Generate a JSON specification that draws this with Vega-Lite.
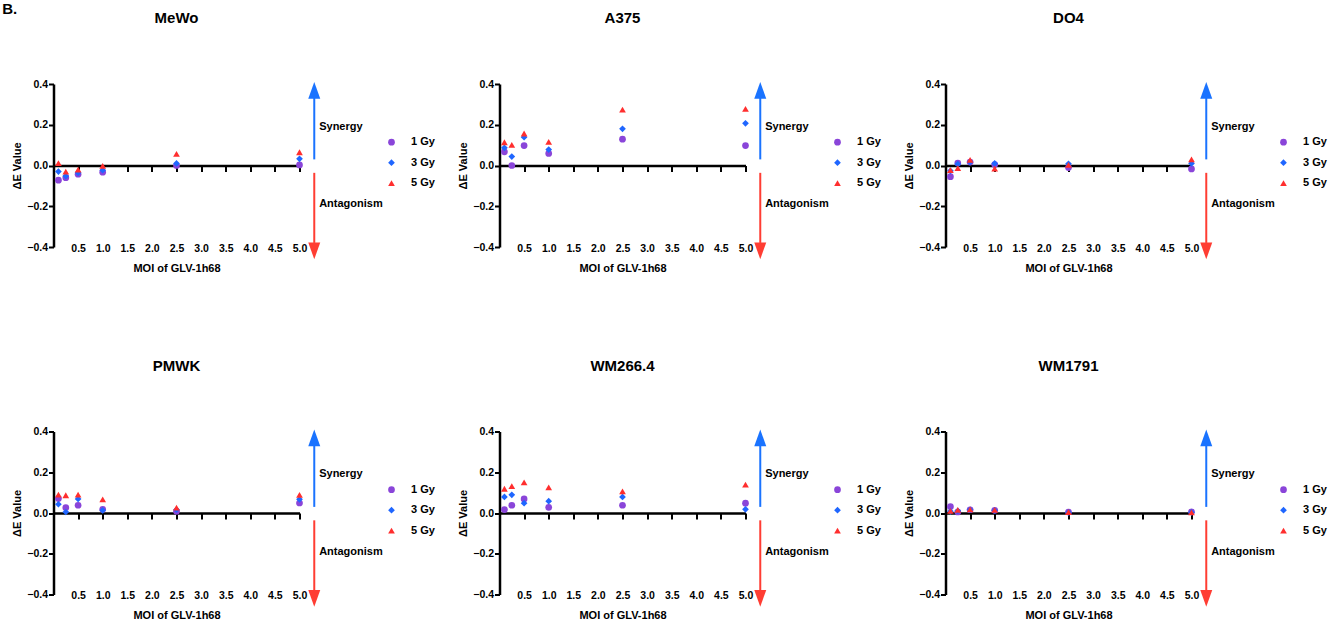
{
  "$schema": "https://vega.github.io/schema/vega-lite/v6.json",
  "background": "white",
  "padding": {"left": 1.5, "top": 2, "right": 5, "bottom": 5},
  "title": {"text": "B.", "anchor": "start", "frame": "bounds", "fontSize": 15, "fontWeight": "bold", "color": "black", "offset": -6, "dx": -9.5},
  "bounds": "flush",
  "columns": 3,
  "spacing": {"row": 184.5, "column": 200},
  "resolve": {"scale": {"color": "independent", "shape": "independent"}},
  "datasets": {
    "pts": [
      {"c": "MeWo", "dose": "1 Gy", "x": 0.1, "y": -0.072}, {"c": "MeWo", "dose": "1 Gy", "x": 0.25, "y": -0.06}, {"c": "MeWo", "dose": "1 Gy", "x": 0.5, "y": -0.043}, {"c": "MeWo", "dose": "1 Gy", "x": 1.0, "y": -0.033}, {"c": "MeWo", "dose": "1 Gy", "x": 2.5, "y": 0.0}, {"c": "MeWo", "dose": "1 Gy", "x": 5.0, "y": 0.003},
      {"c": "MeWo", "dose": "3 Gy", "x": 0.1, "y": -0.03}, {"c": "MeWo", "dose": "3 Gy", "x": 0.25, "y": -0.052}, {"c": "MeWo", "dose": "3 Gy", "x": 0.5, "y": -0.036}, {"c": "MeWo", "dose": "3 Gy", "x": 1.0, "y": -0.023}, {"c": "MeWo", "dose": "3 Gy", "x": 2.5, "y": 0.01}, {"c": "MeWo", "dose": "3 Gy", "x": 5.0, "y": 0.033},
      {"c": "MeWo", "dose": "5 Gy", "x": 0.1, "y": 0.012}, {"c": "MeWo", "dose": "5 Gy", "x": 0.25, "y": -0.03}, {"c": "MeWo", "dose": "5 Gy", "x": 0.5, "y": -0.02}, {"c": "MeWo", "dose": "5 Gy", "x": 1.0, "y": -0.002}, {"c": "MeWo", "dose": "5 Gy", "x": 2.5, "y": 0.057}, {"c": "MeWo", "dose": "5 Gy", "x": 5.0, "y": 0.065},
      {"c": "A375", "dose": "1 Gy", "x": 0.1, "y": 0.067}, {"c": "A375", "dose": "1 Gy", "x": 0.25, "y": 0.0}, {"c": "A375", "dose": "1 Gy", "x": 0.5, "y": 0.098}, {"c": "A375", "dose": "1 Gy", "x": 1.0, "y": 0.059}, {"c": "A375", "dose": "1 Gy", "x": 2.5, "y": 0.129}, {"c": "A375", "dose": "1 Gy", "x": 5.0, "y": 0.098},
      {"c": "A375", "dose": "3 Gy", "x": 0.1, "y": 0.087}, {"c": "A375", "dose": "3 Gy", "x": 0.25, "y": 0.044}, {"c": "A375", "dose": "3 Gy", "x": 0.5, "y": 0.139}, {"c": "A375", "dose": "3 Gy", "x": 1.0, "y": 0.078}, {"c": "A375", "dose": "3 Gy", "x": 2.5, "y": 0.18}, {"c": "A375", "dose": "3 Gy", "x": 5.0, "y": 0.207},
      {"c": "A375", "dose": "5 Gy", "x": 0.1, "y": 0.114}, {"c": "A375", "dose": "5 Gy", "x": 0.25, "y": 0.101}, {"c": "A375", "dose": "5 Gy", "x": 0.5, "y": 0.157}, {"c": "A375", "dose": "5 Gy", "x": 1.0, "y": 0.116}, {"c": "A375", "dose": "5 Gy", "x": 2.5, "y": 0.274}, {"c": "A375", "dose": "5 Gy", "x": 5.0, "y": 0.278},
      {"c": "DO4", "dose": "1 Gy", "x": 0.1, "y": -0.055}, {"c": "DO4", "dose": "1 Gy", "x": 0.25, "y": 0.012}, {"c": "DO4", "dose": "1 Gy", "x": 0.5, "y": 0.017}, {"c": "DO4", "dose": "1 Gy", "x": 1.0, "y": 0.005}, {"c": "DO4", "dose": "1 Gy", "x": 2.5, "y": -0.01}, {"c": "DO4", "dose": "1 Gy", "x": 5.0, "y": -0.017},
      {"c": "DO4", "dose": "3 Gy", "x": 0.1, "y": -0.026}, {"c": "DO4", "dose": "3 Gy", "x": 0.25, "y": 0.007}, {"c": "DO4", "dose": "3 Gy", "x": 0.5, "y": 0.017}, {"c": "DO4", "dose": "3 Gy", "x": 1.0, "y": 0.01}, {"c": "DO4", "dose": "3 Gy", "x": 2.5, "y": 0.008}, {"c": "DO4", "dose": "3 Gy", "x": 5.0, "y": 0.01},
      {"c": "DO4", "dose": "5 Gy", "x": 0.1, "y": -0.023}, {"c": "DO4", "dose": "5 Gy", "x": 0.25, "y": -0.013}, {"c": "DO4", "dose": "5 Gy", "x": 0.5, "y": 0.028}, {"c": "DO4", "dose": "5 Gy", "x": 1.0, "y": -0.015}, {"c": "DO4", "dose": "5 Gy", "x": 2.5, "y": 0.003}, {"c": "DO4", "dose": "5 Gy", "x": 5.0, "y": 0.03},
      {"c": "PMWK", "dose": "1 Gy", "x": 0.1, "y": 0.071}, {"c": "PMWK", "dose": "1 Gy", "x": 0.25, "y": 0.026}, {"c": "PMWK", "dose": "1 Gy", "x": 0.5, "y": 0.038}, {"c": "PMWK", "dose": "1 Gy", "x": 1.0, "y": 0.018}, {"c": "PMWK", "dose": "1 Gy", "x": 2.5, "y": 0.008}, {"c": "PMWK", "dose": "1 Gy", "x": 5.0, "y": 0.049},
      {"c": "PMWK", "dose": "3 Gy", "x": 0.1, "y": 0.043}, {"c": "PMWK", "dose": "3 Gy", "x": 0.25, "y": 0.005}, {"c": "PMWK", "dose": "3 Gy", "x": 0.5, "y": 0.069}, {"c": "PMWK", "dose": "3 Gy", "x": 1.0, "y": 0.013}, {"c": "PMWK", "dose": "3 Gy", "x": 2.5, "y": 0.016}, {"c": "PMWK", "dose": "3 Gy", "x": 5.0, "y": 0.067},
      {"c": "PMWK", "dose": "5 Gy", "x": 0.1, "y": 0.09}, {"c": "PMWK", "dose": "5 Gy", "x": 0.25, "y": 0.087}, {"c": "PMWK", "dose": "5 Gy", "x": 0.5, "y": 0.09}, {"c": "PMWK", "dose": "5 Gy", "x": 1.0, "y": 0.067}, {"c": "PMWK", "dose": "5 Gy", "x": 2.5, "y": 0.026}, {"c": "PMWK", "dose": "5 Gy", "x": 5.0, "y": 0.089},
      {"c": "WM266.4", "dose": "1 Gy", "x": 0.1, "y": 0.017}, {"c": "WM266.4", "dose": "1 Gy", "x": 0.25, "y": 0.038}, {"c": "WM266.4", "dose": "1 Gy", "x": 0.5, "y": 0.069}, {"c": "WM266.4", "dose": "1 Gy", "x": 1.0, "y": 0.028}, {"c": "WM266.4", "dose": "1 Gy", "x": 2.5, "y": 0.038}, {"c": "WM266.4", "dose": "1 Gy", "x": 5.0, "y": 0.048},
      {"c": "WM266.4", "dose": "3 Gy", "x": 0.1, "y": 0.079}, {"c": "WM266.4", "dose": "3 Gy", "x": 0.25, "y": 0.089}, {"c": "WM266.4", "dose": "3 Gy", "x": 0.5, "y": 0.048}, {"c": "WM266.4", "dose": "3 Gy", "x": 1.0, "y": 0.058}, {"c": "WM266.4", "dose": "3 Gy", "x": 2.5, "y": 0.079}, {"c": "WM266.4", "dose": "3 Gy", "x": 5.0, "y": 0.018},
      {"c": "WM266.4", "dose": "5 Gy", "x": 0.1, "y": 0.119}, {"c": "WM266.4", "dose": "5 Gy", "x": 0.25, "y": 0.132}, {"c": "WM266.4", "dose": "5 Gy", "x": 0.5, "y": 0.15}, {"c": "WM266.4", "dose": "5 Gy", "x": 1.0, "y": 0.126}, {"c": "WM266.4", "dose": "5 Gy", "x": 2.5, "y": 0.106}, {"c": "WM266.4", "dose": "5 Gy", "x": 5.0, "y": 0.139},
      {"c": "WM1791", "dose": "1 Gy", "x": 0.1, "y": 0.031}, {"c": "WM1791", "dose": "1 Gy", "x": 0.25, "y": 0.005}, {"c": "WM1791", "dose": "1 Gy", "x": 0.5, "y": 0.016}, {"c": "WM1791", "dose": "1 Gy", "x": 1.0, "y": 0.013}, {"c": "WM1791", "dose": "1 Gy", "x": 2.5, "y": 0.005}, {"c": "WM1791", "dose": "1 Gy", "x": 5.0, "y": 0.006},
      {"c": "WM1791", "dose": "3 Gy", "x": 0.1, "y": 0.008}, {"c": "WM1791", "dose": "3 Gy", "x": 0.25, "y": 0.01}, {"c": "WM1791", "dose": "3 Gy", "x": 0.5, "y": 0.016}, {"c": "WM1791", "dose": "3 Gy", "x": 1.0, "y": 0.012}, {"c": "WM1791", "dose": "3 Gy", "x": 2.5, "y": 0.003}, {"c": "WM1791", "dose": "3 Gy", "x": 5.0, "y": 0.003},
      {"c": "WM1791", "dose": "5 Gy", "x": 0.1, "y": 0.01}, {"c": "WM1791", "dose": "5 Gy", "x": 0.25, "y": 0.015}, {"c": "WM1791", "dose": "5 Gy", "x": 0.5, "y": 0.018}, {"c": "WM1791", "dose": "5 Gy", "x": 1.0, "y": 0.015}, {"c": "WM1791", "dose": "5 Gy", "x": 2.5, "y": 0.005}, {"c": "WM1791", "dose": "5 Gy", "x": 5.0, "y": 0.003}
    ],
    "arrows": [
      {"x": 5.3, "y": 0.03, "y2": 0.35, "col": "#1a73ff"},
      {"x": 5.3, "y": -0.036, "y2": -0.38, "col": "#ff3d33"}
    ],
    "heads": [
      {"x": 5.3, "y": 0.41, "dir": "up"},
      {"x": 5.3, "y": -0.46, "dir": "down"}
    ],
    "labels": [
      {"x": 5.4, "y": 0.19, "t": "Synergy"},
      {"x": 5.4, "y": -0.19, "t": "Antagonism"}
    ]
  },
  "concat": [
    {"width": 246, "height": 163, "title": "MeWo",
     "encoding": {"x": {"field": "x", "type": "quantitative", "scale": {"domain": [0, 5], "nice": false}, "axis": {"values": [0.5, 1, 1.5, 2, 2.5, 3, 3.5, 4, 4.5, 5], "format": ".1f", "title": "MOI of GLV-1h68"}},
                  "y": {"field": "y", "type": "quantitative", "scale": {"domain": [-0.4, 0.4], "nice": false}, "axis": {"values": [-0.4, -0.2, 0, 0.2, 0.4], "format": ".1f", "title": "ΔE Value"}}},
     "layer": [
      {"data": {"name": "pts"}, "transform": [{"filter": "datum.c === 'MeWo'"}], "mark": {"type": "point", "filled": true, "opacity": 1, "size": 45},
       "encoding": {"color": {"field": "dose", "type": "nominal", "scale": {"domain": ["1 Gy", "3 Gy", "5 Gy"], "range": ["#8a45d9", "#1f66ff", "#ff2e2e"]}, "legend": {"orient": "none", "legendX": 332.5, "legendY": 52.7, "title": null}},
                    "shape": {"field": "dose", "type": "nominal", "scale": {"domain": ["1 Gy", "3 Gy", "5 Gy"], "range": ["circle", "diamond", "triangle-up"]}, "legend": {"orient": "none", "legendX": 332.5, "legendY": 52.7, "title": null}}}},
      {"data": {"name": "arrows"}, "mark": {"type": "rule", "strokeWidth": 2}, "encoding": {"y2": {"field": "y2"}, "stroke": {"field": "col", "type": "nominal", "scale": null}}},
      {"data": {"name": "heads"}, "transform": [{"filter": "datum.dir === 'up'"}], "mark": {"type": "point", "shape": "M0,0L1,2.8L-1,2.8Z", "size": 144, "filled": true, "opacity": 1, "color": "#1a73ff"}},
      {"data": {"name": "heads"}, "transform": [{"filter": "datum.dir === 'down'"}], "mark": {"type": "point", "shape": "M0,0L1,-2.8L-1,-2.8Z", "size": 144, "filled": true, "opacity": 1, "color": "#ff3d33"}},
      {"data": {"name": "labels"}, "mark": {"type": "text", "align": "left", "baseline": "middle", "fontSize": 11, "fontWeight": "bold", "color": "black"}, "encoding": {"text": {"field": "t"}}}
     ]},
    {"width": 246, "height": 163, "title": "A375",
     "encoding": {"x": {"field": "x", "type": "quantitative", "scale": {"domain": [0, 5], "nice": false}, "axis": {"values": [0.5, 1, 1.5, 2, 2.5, 3, 3.5, 4, 4.5, 5], "format": ".1f", "title": "MOI of GLV-1h68"}},
                  "y": {"field": "y", "type": "quantitative", "scale": {"domain": [-0.4, 0.4], "nice": false}, "axis": {"values": [-0.4, -0.2, 0, 0.2, 0.4], "format": ".1f", "title": "ΔE Value"}}},
     "layer": [
      {"data": {"name": "pts"}, "transform": [{"filter": "datum.c === 'A375'"}], "mark": {"type": "point", "filled": true, "opacity": 1, "size": 45},
       "encoding": {"color": {"field": "dose", "type": "nominal", "scale": {"domain": ["1 Gy", "3 Gy", "5 Gy"], "range": ["#8a45d9", "#1f66ff", "#ff2e2e"]}, "legend": {"orient": "none", "legendX": 332.5, "legendY": 52.7, "title": null}},
                    "shape": {"field": "dose", "type": "nominal", "scale": {"domain": ["1 Gy", "3 Gy", "5 Gy"], "range": ["circle", "diamond", "triangle-up"]}, "legend": {"orient": "none", "legendX": 332.5, "legendY": 52.7, "title": null}}}},
      {"data": {"name": "arrows"}, "mark": {"type": "rule", "strokeWidth": 2}, "encoding": {"y2": {"field": "y2"}, "stroke": {"field": "col", "type": "nominal", "scale": null}}},
      {"data": {"name": "heads"}, "transform": [{"filter": "datum.dir === 'up'"}], "mark": {"type": "point", "shape": "M0,0L1,2.8L-1,2.8Z", "size": 144, "filled": true, "opacity": 1, "color": "#1a73ff"}},
      {"data": {"name": "heads"}, "transform": [{"filter": "datum.dir === 'down'"}], "mark": {"type": "point", "shape": "M0,0L1,-2.8L-1,-2.8Z", "size": 144, "filled": true, "opacity": 1, "color": "#ff3d33"}},
      {"data": {"name": "labels"}, "mark": {"type": "text", "align": "left", "baseline": "middle", "fontSize": 11, "fontWeight": "bold", "color": "black"}, "encoding": {"text": {"field": "t"}}}
     ]},
    {"width": 246, "height": 163, "title": "DO4",
     "encoding": {"x": {"field": "x", "type": "quantitative", "scale": {"domain": [0, 5], "nice": false}, "axis": {"values": [0.5, 1, 1.5, 2, 2.5, 3, 3.5, 4, 4.5, 5], "format": ".1f", "title": "MOI of GLV-1h68"}},
                  "y": {"field": "y", "type": "quantitative", "scale": {"domain": [-0.4, 0.4], "nice": false}, "axis": {"values": [-0.4, -0.2, 0, 0.2, 0.4], "format": ".1f", "title": "ΔE Value"}}},
     "layer": [
      {"data": {"name": "pts"}, "transform": [{"filter": "datum.c === 'DO4'"}], "mark": {"type": "point", "filled": true, "opacity": 1, "size": 45},
       "encoding": {"color": {"field": "dose", "type": "nominal", "scale": {"domain": ["1 Gy", "3 Gy", "5 Gy"], "range": ["#8a45d9", "#1f66ff", "#ff2e2e"]}, "legend": {"orient": "none", "legendX": 332.5, "legendY": 52.7, "title": null}},
                    "shape": {"field": "dose", "type": "nominal", "scale": {"domain": ["1 Gy", "3 Gy", "5 Gy"], "range": ["circle", "diamond", "triangle-up"]}, "legend": {"orient": "none", "legendX": 332.5, "legendY": 52.7, "title": null}}}},
      {"data": {"name": "arrows"}, "mark": {"type": "rule", "strokeWidth": 2}, "encoding": {"y2": {"field": "y2"}, "stroke": {"field": "col", "type": "nominal", "scale": null}}},
      {"data": {"name": "heads"}, "transform": [{"filter": "datum.dir === 'up'"}], "mark": {"type": "point", "shape": "M0,0L1,2.8L-1,2.8Z", "size": 144, "filled": true, "opacity": 1, "color": "#1a73ff"}},
      {"data": {"name": "heads"}, "transform": [{"filter": "datum.dir === 'down'"}], "mark": {"type": "point", "shape": "M0,0L1,-2.8L-1,-2.8Z", "size": 144, "filled": true, "opacity": 1, "color": "#ff3d33"}},
      {"data": {"name": "labels"}, "mark": {"type": "text", "align": "left", "baseline": "middle", "fontSize": 11, "fontWeight": "bold", "color": "black"}, "encoding": {"text": {"field": "t"}}}
     ]},
    {"width": 246, "height": 163, "title": "PMWK",
     "encoding": {"x": {"field": "x", "type": "quantitative", "scale": {"domain": [0, 5], "nice": false}, "axis": {"values": [0.5, 1, 1.5, 2, 2.5, 3, 3.5, 4, 4.5, 5], "format": ".1f", "title": "MOI of GLV-1h68"}},
                  "y": {"field": "y", "type": "quantitative", "scale": {"domain": [-0.4, 0.4], "nice": false}, "axis": {"values": [-0.4, -0.2, 0, 0.2, 0.4], "format": ".1f", "title": "ΔE Value"}}},
     "layer": [
      {"data": {"name": "pts"}, "transform": [{"filter": "datum.c === 'PMWK'"}], "mark": {"type": "point", "filled": true, "opacity": 1, "size": 45},
       "encoding": {"color": {"field": "dose", "type": "nominal", "scale": {"domain": ["1 Gy", "3 Gy", "5 Gy"], "range": ["#8a45d9", "#1f66ff", "#ff2e2e"]}, "legend": {"orient": "none", "legendX": 332.5, "legendY": 52.7, "title": null}},
                    "shape": {"field": "dose", "type": "nominal", "scale": {"domain": ["1 Gy", "3 Gy", "5 Gy"], "range": ["circle", "diamond", "triangle-up"]}, "legend": {"orient": "none", "legendX": 332.5, "legendY": 52.7, "title": null}}}},
      {"data": {"name": "arrows"}, "mark": {"type": "rule", "strokeWidth": 2}, "encoding": {"y2": {"field": "y2"}, "stroke": {"field": "col", "type": "nominal", "scale": null}}},
      {"data": {"name": "heads"}, "transform": [{"filter": "datum.dir === 'up'"}], "mark": {"type": "point", "shape": "M0,0L1,2.8L-1,2.8Z", "size": 144, "filled": true, "opacity": 1, "color": "#1a73ff"}},
      {"data": {"name": "heads"}, "transform": [{"filter": "datum.dir === 'down'"}], "mark": {"type": "point", "shape": "M0,0L1,-2.8L-1,-2.8Z", "size": 144, "filled": true, "opacity": 1, "color": "#ff3d33"}},
      {"data": {"name": "labels"}, "mark": {"type": "text", "align": "left", "baseline": "middle", "fontSize": 11, "fontWeight": "bold", "color": "black"}, "encoding": {"text": {"field": "t"}}}
     ]},
    {"width": 246, "height": 163, "title": "WM266.4",
     "encoding": {"x": {"field": "x", "type": "quantitative", "scale": {"domain": [0, 5], "nice": false}, "axis": {"values": [0.5, 1, 1.5, 2, 2.5, 3, 3.5, 4, 4.5, 5], "format": ".1f", "title": "MOI of GLV-1h68"}},
                  "y": {"field": "y", "type": "quantitative", "scale": {"domain": [-0.4, 0.4], "nice": false}, "axis": {"values": [-0.4, -0.2, 0, 0.2, 0.4], "format": ".1f", "title": "ΔE Value"}}},
     "layer": [
      {"data": {"name": "pts"}, "transform": [{"filter": "datum.c === 'WM266.4'"}], "mark": {"type": "point", "filled": true, "opacity": 1, "size": 45},
       "encoding": {"color": {"field": "dose", "type": "nominal", "scale": {"domain": ["1 Gy", "3 Gy", "5 Gy"], "range": ["#8a45d9", "#1f66ff", "#ff2e2e"]}, "legend": {"orient": "none", "legendX": 332.5, "legendY": 52.7, "title": null}},
                    "shape": {"field": "dose", "type": "nominal", "scale": {"domain": ["1 Gy", "3 Gy", "5 Gy"], "range": ["circle", "diamond", "triangle-up"]}, "legend": {"orient": "none", "legendX": 332.5, "legendY": 52.7, "title": null}}}},
      {"data": {"name": "arrows"}, "mark": {"type": "rule", "strokeWidth": 2}, "encoding": {"y2": {"field": "y2"}, "stroke": {"field": "col", "type": "nominal", "scale": null}}},
      {"data": {"name": "heads"}, "transform": [{"filter": "datum.dir === 'up'"}], "mark": {"type": "point", "shape": "M0,0L1,2.8L-1,2.8Z", "size": 144, "filled": true, "opacity": 1, "color": "#1a73ff"}},
      {"data": {"name": "heads"}, "transform": [{"filter": "datum.dir === 'down'"}], "mark": {"type": "point", "shape": "M0,0L1,-2.8L-1,-2.8Z", "size": 144, "filled": true, "opacity": 1, "color": "#ff3d33"}},
      {"data": {"name": "labels"}, "mark": {"type": "text", "align": "left", "baseline": "middle", "fontSize": 11, "fontWeight": "bold", "color": "black"}, "encoding": {"text": {"field": "t"}}}
     ]},
    {"width": 246, "height": 163, "title": "WM1791",
     "encoding": {"x": {"field": "x", "type": "quantitative", "scale": {"domain": [0, 5], "nice": false}, "axis": {"values": [0.5, 1, 1.5, 2, 2.5, 3, 3.5, 4, 4.5, 5], "format": ".1f", "title": "MOI of GLV-1h68"}},
                  "y": {"field": "y", "type": "quantitative", "scale": {"domain": [-0.4, 0.4], "nice": false}, "axis": {"values": [-0.4, -0.2, 0, 0.2, 0.4], "format": ".1f", "title": "ΔE Value"}}},
     "layer": [
      {"data": {"name": "pts"}, "transform": [{"filter": "datum.c === 'WM1791'"}], "mark": {"type": "point", "filled": true, "opacity": 1, "size": 45},
       "encoding": {"color": {"field": "dose", "type": "nominal", "scale": {"domain": ["1 Gy", "3 Gy", "5 Gy"], "range": ["#8a45d9", "#1f66ff", "#ff2e2e"]}, "legend": {"orient": "none", "legendX": 332.5, "legendY": 52.7, "title": null}},
                    "shape": {"field": "dose", "type": "nominal", "scale": {"domain": ["1 Gy", "3 Gy", "5 Gy"], "range": ["circle", "diamond", "triangle-up"]}, "legend": {"orient": "none", "legendX": 332.5, "legendY": 52.7, "title": null}}}},
      {"data": {"name": "arrows"}, "mark": {"type": "rule", "strokeWidth": 2}, "encoding": {"y2": {"field": "y2"}, "stroke": {"field": "col", "type": "nominal", "scale": null}}},
      {"data": {"name": "heads"}, "transform": [{"filter": "datum.dir === 'up'"}], "mark": {"type": "point", "shape": "M0,0L1,2.8L-1,2.8Z", "size": 144, "filled": true, "opacity": 1, "color": "#1a73ff"}},
      {"data": {"name": "heads"}, "transform": [{"filter": "datum.dir === 'down'"}], "mark": {"type": "point", "shape": "M0,0L1,-2.8L-1,-2.8Z", "size": 144, "filled": true, "opacity": 1, "color": "#ff3d33"}},
      {"data": {"name": "labels"}, "mark": {"type": "text", "align": "left", "baseline": "middle", "fontSize": 11, "fontWeight": "bold", "color": "black"}, "encoding": {"text": {"field": "t"}}}
     ]}
  ],
  "config": {
    "font": "Liberation Sans",
    "view": {"stroke": null},
    "title": {"fontSize": 15, "fontWeight": "bold", "color": "black", "anchor": "middle", "frame": "group", "offset": 53},
    "axis": {"grid": false, "domainColor": "black", "domainWidth": 2.5, "tickColor": "black", "tickWidth": 2, "labelColor": "black", "labelFontWeight": "bold", "labelFontSize": 10.5, "titleColor": "black", "titleFontWeight": "bold", "titleFontSize": 11},
    "axisX": {"offset": -81.5, "tickSize": 6, "labelPadding": 71.7, "titlePadding": 8.5, "labelFlush": false, "labelOverlap": false},
    "axisY": {"tickSize": 5, "labelPadding": 1, "titlePadding": 4},
    "legend": {"labelFontSize": 11, "labelFontWeight": "bold", "labelColor": "black", "symbolSize": 45, "rowPadding": 8.5, "labelOffset": 14, "padding": 0}
  }
}
